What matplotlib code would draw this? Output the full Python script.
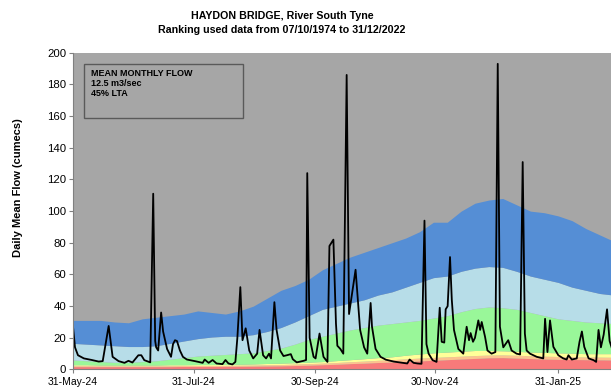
import pandas as pd
import matplotlib
matplotlib.use('Agg')
import matplotlib.pyplot as plt
import matplotlib.dates as mdates
from matplotlib.patches import Rectangle

plt.rcParams['font.family'] = ['Liberation Sans', 'DejaVu Sans']

start = pd.Timestamp('2024-05-31')

# flow percentile bands, one value a week from 31 May
band_days = list(range(0, 274, 7))
red_top = [1.8, 1.8, 1.8, 1.8, 1.8, 1.8, 1.8, 1.8, 1.9, 1.9,
           1.9, 2.0, 2.0, 2.1, 2.2, 2.3, 2.5, 2.7, 3.0, 3.3,
           3.7, 4.0, 4.4, 4.7, 5.0, 5.4, 5.8, 6.2, 6.6, 7.0,
           7.4, 7.5, 7.2, 6.9, 6.6, 6.4, 6.3, 6.2, 6.1, 6.0]
orange_top = [2.4, 2.4, 2.3, 2.3, 2.3, 2.3, 2.3, 2.4, 2.5, 2.5,
              2.5, 2.6, 2.7, 2.8, 3.0, 3.1, 3.4, 3.7, 4.0, 4.4,
              4.9, 5.3, 5.8, 6.2, 6.7, 7.2, 7.6, 8.0, 8.4, 8.8,
              9.1, 9.2, 9.0, 8.7, 8.4, 8.2, 8.0, 7.9, 7.8, 7.7]
yellow_top = [3.0, 3.0, 2.8, 2.8, 2.8, 2.8, 2.8, 3.0, 3.0, 3.1,
              3.1, 3.2, 3.3, 3.5, 3.8, 4.0, 4.3, 4.6, 5.0, 5.6,
              6.2, 6.8, 7.5, 8.0, 9.0, 9.8, 10.5, 11.0, 11.5, 12.0,
              12.0, 11.8, 11.5, 11.0, 10.8, 10.5, 10.3, 10.0, 10.0, 10.0]
green_top = [6, 5.5, 5, 4.5, 4.5, 5, 5.5, 6.5, 7.5, 8.5,
             9, 9.5, 10, 10.5, 12, 13.5, 16, 19, 21, 23,
             25, 26.5, 28, 29, 30, 31, 32.5, 34, 36.5, 38.5,
             39.5, 39, 38, 36, 34, 32, 31, 30, 29.5, 29]
lblue_top = [16.5, 16, 15.5, 15, 14.5, 14.5, 15, 16.5, 18, 19.5,
             20.5, 21, 21, 22, 24, 26.5, 30, 34, 38, 40,
             42, 44, 47, 49, 52, 55, 58, 59, 62, 64,
             65, 64.5, 62, 59, 57, 55, 52, 50, 48, 47]
blue_top = [31, 31, 31, 30, 29.5, 32, 33, 34, 35, 37,
            36, 35, 37, 40, 45, 50, 53, 57, 63, 67,
            71, 74, 77, 80, 83, 87, 93, 93, 100, 105,
            107, 108, 104, 100, 99, 97, 94, 89, 85, 81]

# daily mean flow (days after 31 May, cumecs)
flow_day = [0, 1, 2.5, 5.5, 9.5, 13, 15, 17, 18, 19,
            20, 23, 26, 28, 30, 33, 34.5, 36, 39, 40.5,
            41.5, 42, 43, 44.5, 45.5, 47.5, 49.5, 50.5, 51.5, 52.5,
            54, 55.5, 57.5, 61.5, 65.5, 66.5, 68.5, 70.5, 72.5, 75.5,
            77, 78.5, 80.5, 82, 83, 84.5, 85.6, 87.2, 89, 91,
            93, 94.2, 96, 97.5, 99, 100, 101.7, 102.8, 104.6, 106.3,
            108, 110, 111, 113, 116.5, 117.7, 118.3, 119.5, 121.5, 122.5,
            124.5, 126.5, 128.5, 129.5, 130.5, 131.5, 132.8, 133.5, 135, 136.5,
            138.2, 139.4, 142.7, 145, 147, 148.6, 150.3, 151, 152.8, 155.3,
            158, 162, 166, 168.8, 170, 172, 174, 176, 177.5, 178.5, 179.6, 181.6,
            183.6, 185.2, 186.2, 187.5, 188.2, 189.2, 190.4, 191.3, 192.4, 194.6,
            197.1, 198.8, 200, 200.8, 202, 203, 204.7, 205.6, 206.4, 208.1,
            209.3, 211.4, 213.3, 214.5, 215.6, 217.3, 219.8, 221.5, 224, 225.8,
            227.1, 228.2, 229.1, 230.8, 234.2, 237.5, 238.4, 239.6, 240.9, 242.6,
            245.1, 247.6, 249.3, 250.2, 251.9, 254.4, 255.8, 257, 258.2, 260.4,
            262.9, 264.2, 265.4, 266.6, 268, 269.7, 271, 272.5]
flow_value = [27, 14, 9, 7, 6, 5, 5.3, 20, 27.5, 18,
              8, 5.3, 4.2, 5.5, 4.4, 9, 9, 5.9, 4.5, 111,
              18, 14, 12, 36, 24, 13, 8, 16, 18.5, 18,
              12, 8, 6.3, 5.3, 4.2, 6.3, 4.2, 6, 3.8, 3.4,
              6, 3.8, 3.2, 4.8, 20, 52, 18.5, 26, 12, 7,
              10, 25, 9, 7, 10, 7, 42.5, 25, 12, 8.5,
              9, 9.7, 6.5, 4.5, 5.5, 6, 124, 20, 8, 7,
              22.7, 8, 4.8, 78, 80, 82, 29, 15, 13, 10,
              186, 35, 63, 25, 14, 10, 42, 27, 13, 8,
              6.2, 5, 4.3, 3.8, 6.3, 4.2, 3.8, 3.6, 94, 16, 10, 5.9,
              4.8, 39, 17.5, 17, 38, 40, 71, 44, 25, 13,
              10, 27, 18.5, 23, 17.5, 20, 31, 25, 30, 20.6,
              12, 10, 11, 193, 27, 14, 18.5, 12, 10, 9.5,
              131, 22.7, 12, 10, 8, 7, 32, 11, 31, 14.3,
              9, 7, 6.3, 9, 6.3, 7, 17.5, 24, 14.3, 7,
              5.9, 4.8, 25, 14, 22, 38, 18, 12]

tick_dates = ['2024-05-31', '2024-07-31', '2024-09-30', '2024-11-30', '2025-01-31']

band_x = start + pd.to_timedelta(band_days, unit='D')
flow_x = start + pd.to_timedelta(flow_day, unit='D')

fig = plt.figure(figsize=(6.11, 3.92), dpi=100)
ax = fig.add_axes([0.1195, 0.0574, 0.8805, 0.808])
ax.set_facecolor('#a6a6a6')

zero = [0] * len(band_days)
ax.fill_between(band_x, zero, red_top, color='#f87a7a', lw=0)
ax.fill_between(band_x, red_top, orange_top, color='#fcc38f', lw=0)
ax.fill_between(band_x, orange_top, yellow_top, color='#ffff99', lw=0)
ax.fill_between(band_x, yellow_top, green_top, color='#99f799', lw=0)
ax.fill_between(band_x, green_top, lblue_top, color='#b7dde8', lw=0)
ax.fill_between(band_x, lblue_top, blue_top, color='#558ed5', lw=0)

ax.plot(flow_x, flow_value, color='black', lw=1.3)

ax.set_ylim(0, 200)
ax.set_yticks(range(0, 201, 20))
ax.set_xlim(start, start + pd.Timedelta(days=271.7))
ax.set_xticks(pd.to_datetime(tick_dates))
ax.xaxis.set_major_formatter(mdates.DateFormatter('%d-%b-%y'))

for side in ['top', 'right']:
    ax.spines[side].set_visible(False)
for side in ['left', 'bottom']:
    ax.spines[side].set_color('#808080')
    ax.spines[side].set_linewidth(0.8)
ax.tick_params(axis='both', colors='#808080', length=3, width=0.8)
ax.tick_params(axis='y', labelcolor='black', labelsize=8.2, pad=2)
ax.tick_params(axis='x', labelcolor='black', labelsize=7.5, pad=2.5)

# summary box
ax.add_patch(Rectangle((0.0204, 0.794), 0.2956, 0.17, transform=ax.transAxes,
                       facecolor='none', edgecolor='#5a5a5a', lw=1, zorder=5))
box_lines = ['MEAN MONTHLY FLOW', '12.5 m3/sec', '45% LTA']
for i, line in enumerate(box_lines):
    ax.text(0.0335, 0.933 - i * 0.031, line, transform=ax.transAxes,
            fontsize=6.5, fontweight='bold', va='center', ha='left', zorder=6)

fig.text(0.4615, 0.960, 'HAYDON BRIDGE, River South Tyne',
         ha='center', va='center', fontsize=7.7, fontweight='bold')
fig.text(0.4615, 0.923, 'Ranking used data from 07/10/1974 to 31/12/2022',
         ha='center', va='center', fontsize=7.7, fontweight='bold')
fig.text(0.0295, 0.522, 'Daily Mean Flow (cumecs)', rotation=90,
         ha='center', va='center', fontsize=8, fontweight='bold')

fig.savefig('out.png', dpi=100)
